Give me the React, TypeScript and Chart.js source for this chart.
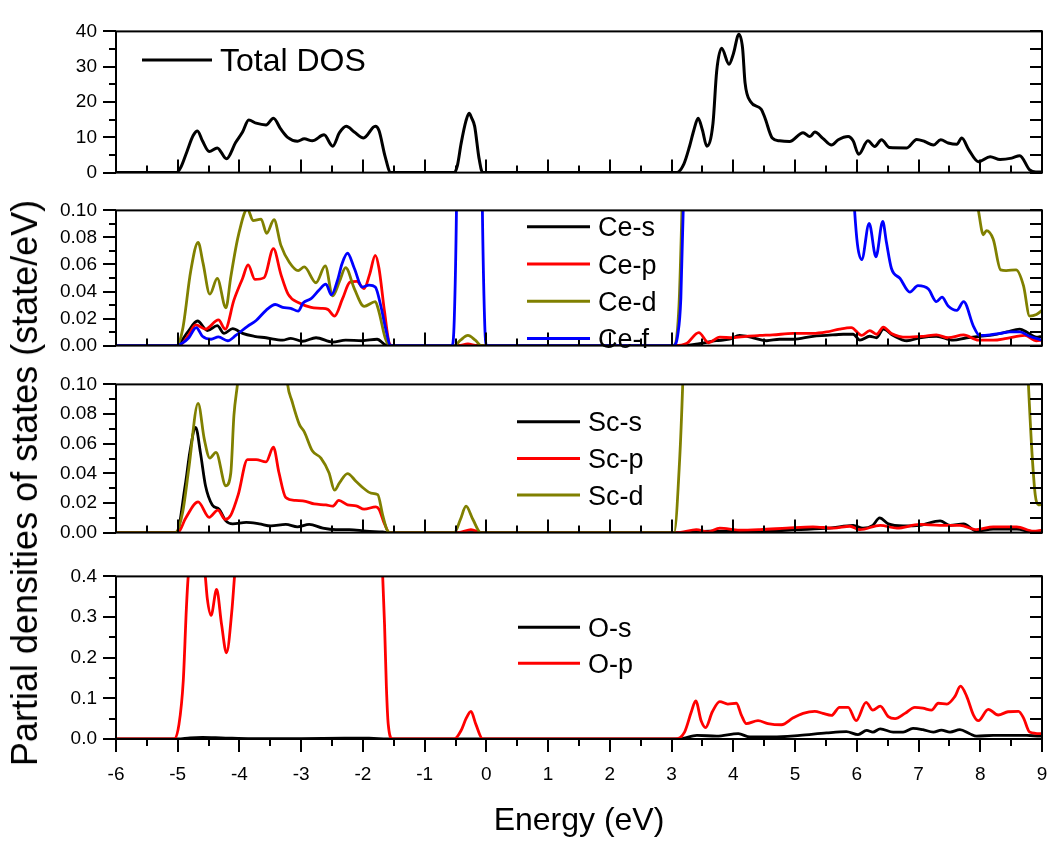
import React, { useEffect, useRef } from 'react';
import { Chart, registerables } from 'chart.js';

Chart.register(...registerables);

// ---------------- data (energies in eV, DOS values) ----------------
const energyTicks = [-6, -5, -4, -3, -2, -1, 0, 1, 2, 3, 4, 5, 6, 7, 8, 9];
const totalTicks = [0, 10, 20, 30, 40];
const pdosTicks = [0, 0.02, 0.04, 0.06, 0.08, 0.1];
const oTicks = [0, 0.1, 0.2, 0.3, 0.4];

const totalLabels = ['Total DOS'];
const ceLabels = ['Ce-s', 'Ce-p', 'Ce-d', 'Ce-f'];
const scLabels = ['Sc-s', 'Sc-p', 'Sc-d'];
const oLabels = ['O-s', 'O-p'];

const totalE = [-6, -5.02, -4.95, -4.85, -4.75, -4.68, -4.6, -4.49, -4.36, -4.21, -4.06, -3.95, -3.85, -3.73, -3.57, -3.45, -3.33, -3.22, -3.06, -2.95, -2.82, -2.63, -2.49, -2.38, -2.27, -2.14, -1.99, -1.8, -1.74, -1.64, -1.55,
  -0.52, -0.47, -0.41, -0.33, -0.28, -0.24, -0.19, -0.12, -0.06,
  3.08, 3.2, 3.29, 3.36, 3.43, 3.5, 3.57, 3.67, 3.73, 3.81, 3.93, 4.0, 4.09, 4.15, 4.19, 4.28, 4.45, 4.51, 4.63, 4.75, 4.91, 5.13, 5.24, 5.32, 5.45, 5.59, 5.7, 5.86, 5.94, 6.03, 6.18, 6.29, 6.4, 6.53, 6.81, 6.97, 7.1, 7.24, 7.36, 7.48, 7.62, 7.7, 7.81, 7.97, 8.16, 8.32, 8.51, 8.64, 8.8, 8.9, 9.0];
const totalDOS = [0, 0, 1.5, 6, 10.5, 11.8, 9, 6, 7, 3.9, 8.6, 11.5, 14.9, 14, 13.5, 15.4, 12.3, 10, 8.9, 9.6, 9, 10.7, 7.5, 11.3, 13.1, 11.5, 9.8, 13.1, 11.9, 4.5, 0,
  0, 2, 8.2, 14.7, 16.8, 15.5, 13.1, 4.1, 0,
  0, 2.5, 7.4, 12, 15.4, 12, 7.5, 13.9, 28.7, 35.2, 30.7, 33.6, 39.2, 35.2, 25.4, 20.1, 18, 15.6, 9.8, 9, 8.8, 11.3, 10.2, 11.5, 9.7, 7.8, 9.3, 10.2, 9, 5.2, 9, 7.4, 9.3, 7.1, 7, 9.4, 8.8, 7.8, 9.3, 8.4, 8, 9.8, 6.6, 3.1, 4.5, 3.7, 4.1, 4.8, 0.8, 0.2, 0.2];

const ceSE = [-6, -5.02, -4.84, -4.68, -4.52, -4.36, -4.25, -4.11, -3.95, -3.76, -3.57, -3.3, -3.17, -2.98, -2.76, -2.49, -2.28, -2.01, -1.77, -1.63, -1.55,
  3.13, 3.45, 3.72, 3.94, 4.1, 4.32, 4.54, 4.75, 4.97, 5.29, 5.51, 5.78, 5.94, 6.05, 6.21, 6.32, 6.43, 6.59, 6.81, 7.02, 7.29, 7.56, 7.78, 7.99, 8.21, 8.43, 8.64, 8.75, 8.91, 9.0];
const ceS = [0, 0, 0.01, 0.0182, 0.0111, 0.0148, 0.009, 0.0126, 0.009, 0.0069, 0.0058, 0.004, 0.0054, 0.0032, 0.0058, 0.0026, 0.004, 0.0036, 0.0047, 0.0004, 0,
  0, 0.0015, 0.0036, 0.0047, 0.0075, 0.0058, 0.0036, 0.0047, 0.0047, 0.0069, 0.0075, 0.0084, 0.0084, 0.004, 0.0069, 0.0058, 0.0122, 0.0075, 0.0036, 0.0058, 0.0069, 0.004, 0.0058, 0.0069, 0.0079, 0.0101, 0.0122, 0.0101, 0.0062, 0.0069];

const cePE = [-6, -4.98, -4.82, -4.71, -4.55, -4.34, -4.23, -4.09, -3.95, -3.86, -3.75, -3.6, -3.45, -3.33, -3.21, -3.03, -2.84, -2.68, -2.57, -2.46, -2.33, -2.21, -2.1, -1.98, -1.89, -1.8, -1.74, -1.65, -1.57, -1.52,
  -0.45, -0.3, -0.15,
  3.05, 3.24, 3.44, 3.6, 3.78, 3.99, 4.21, 4.43, 4.64, 4.97, 5.29, 5.51, 5.72, 5.91, 6.08, 6.21, 6.32, 6.43, 6.56, 6.81, 7.08, 7.29, 7.48, 7.73, 7.97, 8.21, 8.43, 8.72, 8.91, 9.0];
const ceP = [0, 0, 0.008, 0.0154, 0.0122, 0.019, 0.0122, 0.0336, 0.0497, 0.0597, 0.049, 0.0503, 0.0717, 0.0529, 0.0379, 0.0315, 0.0283, 0.0276, 0.0268, 0.0218, 0.0347, 0.0469, 0.0475, 0.0422, 0.0529, 0.0668, 0.0572, 0.025, 0.0015, 0,
  0, 0.0012, 0,
  0, 0.0015, 0.0096, 0.0021, 0.0062, 0.0058, 0.0069, 0.0075, 0.0079, 0.009, 0.009, 0.0101, 0.0122, 0.0133, 0.0075, 0.0111, 0.0084, 0.0137, 0.009, 0.0062, 0.0069, 0.0079, 0.0058, 0.0079, 0.004, 0.004, 0.0054, 0.0075, 0.0036, 0.004];

const ceDE = [-6, -5.02, -4.92, -4.79, -4.67, -4.59, -4.48, -4.36, -4.22, -4.14, -4.02, -3.87, -3.78, -3.65, -3.56, -3.44, -3.33, -3.19, -3.05, -2.95, -2.76, -2.61, -2.49, -2.38, -2.28, -2.14, -1.98, -1.8, -1.74, -1.64, -1.57,
  -0.52, -0.42, -0.3, -0.18, -0.08,
  3.03, 3.12, 3.2, 3.5, 4.0, 5.0, 6.0, 7.0, 7.8, 7.97, 8.05, 8.1, 8.21, 8.33, 8.42, 8.58, 8.7, 8.8, 8.91, 9.0];
const ceD = [0, 0, 0.0122, 0.055, 0.0764, 0.061, 0.038, 0.0497, 0.028, 0.051, 0.081, 0.101, 0.0925, 0.0936, 0.083, 0.0931, 0.0743, 0.0615, 0.0555, 0.0582, 0.0465, 0.0589, 0.0368, 0.0475, 0.0576, 0.0422, 0.029, 0.0325, 0.025, 0.0058, 0,
  0, 0.004, 0.0075, 0.004, 0,
  0, 0.03, 0.15, 0.4, 0.6, 0.5, 0.4, 0.3, 0.15, 0.1, 0.082, 0.085, 0.0786, 0.056, 0.0555, 0.056, 0.0443, 0.0218, 0.023, 0.026];

const ceFE = [-6, -5.02, -4.92, -4.82, -4.7, -4.6, -4.46, -4.34, -4.19, -4.06, -3.87, -3.73, -3.57, -3.42, -3.3, -3.17, -3.05, -2.97, -2.84, -2.71, -2.6, -2.51, -2.41, -2.34, -2.25, -2.14, -2.01, -1.9, -1.8, -1.71, -1.63, -1.55,
  -0.56, -0.52, -0.48, -0.4, -0.28, -0.15, -0.07, -0.03, 0,
  3.03, 3.1, 3.15, 3.2, 3.3, 3.6, 4.0, 4.5, 5.0, 5.5, 5.85, 5.95, 6.01, 6.08, 6.2, 6.31, 6.42, 6.48, 6.56, 6.7, 6.86, 6.99, 7.16, 7.29, 7.38, 7.48, 7.62, 7.73, 7.89, 7.99, 8.16, 8.32, 8.48, 8.64, 8.8, 9.0];
const ceF = [0, 0, 0.002, 0.0058, 0.0133, 0.0069, 0.0047, 0.0064, 0.0036, 0.0075, 0.0143, 0.0186, 0.0261, 0.0304, 0.0283, 0.0276, 0.0255, 0.0315, 0.0347, 0.0411, 0.0454, 0.0375, 0.0486, 0.0604, 0.0683, 0.0572, 0.0433, 0.0448, 0.0433, 0.0293, 0.0122, 0,
  0, 0.02, 0.12, 0.6, 1.2, 0.6, 0.12, 0.02, 0,
  0, 0.008, 0.035, 0.12, 0.4, 1.5, 3.0, 2.5, 1.5, 0.6, 0.2, 0.11, 0.075, 0.0636, 0.0904, 0.0657, 0.0919, 0.0764, 0.0572, 0.0497, 0.0396, 0.0443, 0.0418, 0.0325, 0.0358, 0.0293, 0.0261, 0.0325, 0.0143, 0.0075, 0.0079, 0.009, 0.0101, 0.0101, 0.0069, 0.004];

const scSE = [-6, -5.02, -4.88, -4.8, -4.71, -4.63, -4.55, -4.44, -4.33, -4.22, -4.11, -3.89, -3.68, -3.49, -3.25, -3.06, -2.87, -2.65, -2.44, -2.22, -1.95, -1.68, -1.57,
  3.13, 3.62, 4.05, 4.48, 5.02, 5.56, 5.94, 6.1, 6.26, 6.37, 6.51, 6.75, 7.02, 7.35, 7.51, 7.73, 7.94, 8.21, 8.59, 8.86, 9.0];
const scS = [0, 0, 0.0316, 0.0552, 0.071, 0.0533, 0.0316, 0.0187, 0.0158, 0.0079, 0.0059, 0.0069, 0.0059, 0.0045, 0.0055, 0.0039, 0.0055, 0.003, 0.002, 0.002, 0.001, 0.0004, 0,
  0, 0.001, 0.001, 0.001, 0.002, 0.003, 0.0049, 0.003, 0.0049, 0.0099, 0.0059, 0.0045, 0.0049, 0.0079, 0.0049, 0.0059, 0.001, 0.0024, 0.0024, 0.0004, 0.001];

const scPE = [-6, -5.0, -4.87, -4.67, -4.49, -4.35, -4.23, -4.14, -4.02, -3.87, -3.73, -3.57, -3.45, -3.36, -3.25, -3.09, -2.93, -2.79, -2.6, -2.49, -2.39, -2.25, -2.11, -1.98, -1.79, -1.74, -1.65, -1.57,
  -0.45, -0.25, -0.08,
  3.11, 3.4, 3.59, 3.78, 4.1, 4.43, 4.86, 5.29, 5.62, 5.89, 6.05, 6.38, 6.65, 7.02, 7.35, 7.67, 7.94, 8.21, 8.59, 8.86, 9.0];
const scP = [0, 0, 0.0099, 0.0207, 0.0103, 0.0152, 0.0089, 0.0118, 0.0256, 0.0493, 0.0493, 0.0477, 0.0576, 0.0404, 0.0237, 0.0217, 0.0211, 0.0193, 0.0187, 0.0178, 0.0217, 0.0187, 0.0181, 0.0158, 0.0174, 0.0158, 0.0059, 0,
  0, 0.002, 0,
  0, 0.002, 0.0004, 0.003, 0.0016, 0.002, 0.003, 0.0039, 0.003, 0.0043, 0.002, 0.0049, 0.003, 0.0055, 0.0049, 0.0049, 0.002, 0.0039, 0.0039, 0.001, 0.0016];

const scDE = [-6, -5.04, -4.92, -4.82, -4.67, -4.57, -4.48, -4.38, -4.22, -4.14, -4.09, -4.03, -3.9, -3.6, -3.3, -3.22, -3.15, -3.03, -2.95, -2.82, -2.68, -2.55, -2.46, -2.38, -2.25, -2.11, -1.98, -1.87, -1.76, -1.68, -1.6, -1.55,
  -0.52, -0.42, -0.33, -0.22, -0.09,
  3.04, 3.13, 3.18, 3.25, 4.0, 5.0, 6.0, 7.0, 8.0, 8.6, 8.78, 8.8, 8.83, 8.89, 8.94, 9.0];
const scD = [0, 0, 0.0138, 0.0434, 0.0872, 0.0631, 0.0503, 0.0542, 0.0316, 0.0404, 0.079, 0.101, 0.16, 0.2, 0.14, 0.1, 0.0888, 0.073, 0.068, 0.0552, 0.0503, 0.0404, 0.0286, 0.0335, 0.0398, 0.0345, 0.0296, 0.0266, 0.0256, 0.0118, 0.001, 0,
  0, 0.009, 0.0178, 0.009, 0,
  0, 0.049, 0.1, 0.2, 0.8, 1.0, 1.0, 0.8, 0.6, 0.3, 0.1, 0.083, 0.059, 0.0256, 0.0187, 0.019];

const oSE = [-6, -5.0, -4.8, -4.6, -4.3, -3.8, -3.0, -2.3, -1.9, -1.6,
  3.13, 3.41, 3.73, 4.08, 4.27, 4.64, 5.08, 5.51, 5.83, 6.02, 6.16, 6.26, 6.38, 6.59, 6.75, 6.91, 7.07, 7.24, 7.37, 7.51, 7.67, 7.83, 7.94, 8.21, 8.48, 8.75, 8.97, 9.0];
const oS = [0, 0, 0.003, 0.004, 0.003, 0.001, 0.001, 0.002, 0.002, 0,
  0, 0.009, 0.007, 0.013, 0.005, 0.005, 0.009, 0.015, 0.018, 0.011, 0.021, 0.017, 0.025, 0.017, 0.017, 0.026, 0.023, 0.017, 0.022, 0.017, 0.023, 0.013, 0.007, 0.009, 0.009, 0.009, 0.007, 0.007];

const oPE = [-6, -5.06, -4.98, -4.91, -4.86, -4.83, -4.7, -4.56, -4.52, -4.46, -4.37, -4.29, -4.21, -4.12, -4.08, -3.9, -3.5, -3.0, -2.5, -2.0, -1.75, -1.68, -1.65, -1.62, -1.59, -1.52,
  -0.52, -0.41, -0.33, -0.25, -0.17, -0.06,
  3.06, 3.21, 3.32, 3.39, 3.48, 3.55, 3.66, 3.78, 3.91, 4.05, 4.13, 4.21, 4.4, 4.56, 4.78, 4.97, 5.13, 5.32, 5.45, 5.59, 5.72, 5.86, 5.99, 6.15, 6.26, 6.38, 6.51, 6.62, 6.78, 6.94, 7.07, 7.21, 7.32, 7.46, 7.59, 7.68, 7.78, 7.89, 7.97, 8.13, 8.29, 8.45, 8.62, 8.7, 8.8, 8.97, 9.0];
const oP = [0, 0, 0.036, 0.144, 0.321, 0.4, 0.5, 0.41, 0.344, 0.304, 0.368, 0.282, 0.212, 0.321, 0.4, 0.7, 0.9, 0.8, 0.8, 0.9, 0.6, 0.4, 0.282, 0.128, 0.036, 0,
  0, 0.021, 0.05, 0.068, 0.036, 0,
  0, 0.017, 0.067, 0.094, 0.044, 0.028, 0.067, 0.092, 0.086, 0.088, 0.059, 0.038, 0.045, 0.038, 0.035, 0.052, 0.063, 0.068, 0.063, 0.058, 0.078, 0.078, 0.045, 0.09, 0.071, 0.081, 0.055, 0.05, 0.063, 0.078, 0.076, 0.071, 0.088, 0.086, 0.105, 0.13, 0.105, 0.059, 0.045, 0.073, 0.059, 0.067, 0.068, 0.052, 0.017, 0.013, 0.013];

// ---------------- styling / layout ----------------
const FONT = '"Liberation Sans", Arial, Helvetica, sans-serif';
const BLACK = '#000000';
const RED = '#ff0000';
const OLIVE = '#808000';
const BLUE = '#0000ff';

type Series = { label: string; color: string; e: number[]; v: number[] };
type LegendSpec = { x0: number; x1: number; tx: number; y0: number; gap: number; size: number };
type PanelSpec = {
  key: string;
  top: number;
  height: number;
  padTop: number;
  padBottom: number;
  yTicks: number[];
  decimals: number;
  series: Series[];
  legend: LegendSpec;
  bottomAxis: boolean;
};

const panels: PanelSpec[] = [
  {
    key: 'total', top: 1, height: 202, padTop: 20, padBottom: 20,
    yTicks: totalTicks, decimals: 0, bottomAxis: false,
    series: [{ label: totalLabels[0], color: BLACK, e: totalE, v: totalDOS }],
    legend: { x0: 142, x1: 212, tx: 220, y0: 60, gap: 0, size: 32 },
  },
  {
    key: 'ce', top: 180, height: 196, padTop: 20, padBottom: 20,
    yTicks: pdosTicks, decimals: 2, bottomAxis: false,
    series: [
      { label: ceLabels[0], color: BLACK, e: ceSE, v: ceS },
      { label: ceLabels[1], color: RED, e: cePE, v: ceP },
      { label: ceLabels[2], color: OLIVE, e: ceDE, v: ceD },
      { label: ceLabels[3], color: BLUE, e: ceFE, v: ceF },
    ],
    legend: { x0: 527, x1: 590, tx: 598, y0: 226.7, gap: 37.3, size: 27 },
  },
  {
    key: 'sc', top: 354, height: 209, padTop: 20, padBottom: 20,
    yTicks: pdosTicks, decimals: 2, bottomAxis: false,
    series: [
      { label: scLabels[0], color: BLACK, e: scSE, v: scS },
      { label: scLabels[1], color: RED, e: scPE, v: scP },
      { label: scLabels[2], color: OLIVE, e: scDE, v: scD },
    ],
    legend: { x0: 517, x1: 580, tx: 588, y0: 421.7, gap: 36.7, size: 27 },
  },
  {
    key: 'o', top: 546, height: 300, padTop: 20, padBottom: 0,
    yTicks: oTicks, decimals: 1, bottomAxis: true,
    series: [
      { label: oLabels[0], color: BLACK, e: oSE, v: oS },
      { label: oLabels[1], color: RED, e: oPE, v: oP },
    ],
    legend: { x0: 518, x1: 580, tx: 588, y0: 627.3, gap: 36, size: 27 },
  },
];

function makeDecor(spec: PanelSpec) {
  return {
    id: 'decor_' + spec.key,
    afterDatasetsDraw(chart: any) {
      const { ctx, chartArea } = chart;
      const { left, right, top, bottom } = chartArea;
      const xs = chart.scales.x;
      const ys = chart.scales.y;
      ctx.save();
      ctx.strokeStyle = '#000';
      ctx.lineWidth = 2;
      ctx.lineCap = 'butt';
      // x ticks (major + minor)
      const dir = spec.bottomAxis ? 1 : -1;
      const xLine = (v: number, len: number) => {
        const px = Math.round(xs.getPixelForValue(v));
        ctx.beginPath();
        ctx.moveTo(px, bottom);
        ctx.lineTo(px, bottom + dir * len);
        ctx.stroke();
      };
      energyTicks.forEach((v, i) => {
        xLine(v, 13);
        if (i < energyTicks.length - 1) xLine((v + energyTicks[i + 1]) / 2, 7);
      });
      // y ticks (left outward, right inward)
      const yLine = (v: number, lenL: number, lenR: number) => {
        const py = Math.round(ys.getPixelForValue(v));
        ctx.beginPath();
        ctx.moveTo(left, py);
        ctx.lineTo(left - lenL, py);
        ctx.stroke();
        ctx.beginPath();
        ctx.moveTo(right, py);
        ctx.lineTo(right - lenR, py);
        ctx.stroke();
      };
      const yt = spec.yTicks;
      yt.forEach((v, i) => {
        yLine(v, 13, 12);
        if (i < yt.length - 1) yLine((v + yt[i + 1]) / 2, 7, 12);
      });
      // frame
      ctx.strokeRect(left, top, right - left, bottom - top);
      // legend
      const lg = spec.legend;
      spec.series.forEach((s, i) => {
        const y = lg.y0 + i * lg.gap - spec.top;
        ctx.strokeStyle = s.color;
        ctx.lineWidth = 3;
        ctx.beginPath();
        ctx.moveTo(lg.x0, y);
        ctx.lineTo(lg.x1, y);
        ctx.stroke();
        ctx.fillStyle = '#000';
        ctx.font = `${lg.size}px ${FONT}`;
        ctx.textAlign = 'left';
        ctx.textBaseline = 'alphabetic';
        ctx.fillText(s.label, lg.tx, y + lg.size * 0.358);
      });
      ctx.restore();
    },
  };
}

function buildConfig(spec: PanelSpec): any {
  const n = spec.series.length;
  return {
    type: 'line',
    data: {
      datasets: spec.series.map((s, i) => ({
        label: s.label,
        data: s.e.map((x, k) => ({ x, y: s.v[k] })),
        borderColor: s.color,
        backgroundColor: s.color,
        borderWidth: spec.key === 'total' ? 3 : 2.8,
        pointRadius: 0,
        pointHoverRadius: 0,
        fill: false,
        cubicInterpolationMode: 'monotone',
        order: n - 1 - i,
      })),
    },
    options: {
      animation: false,
      responsive: false,
      events: [],
      layout: { padding: { left: 0, right: 9, top: spec.padTop, bottom: spec.padBottom } },
      plugins: {
        legend: { display: false },
        tooltip: { enabled: false },
        title: { display: false },
      },
      scales: {
        x: {
          type: 'linear',
          min: energyTicks[0],
          max: energyTicks[energyTicks.length - 1],
          display: spec.bottomAxis,
          grid: {
            display: true,
            drawOnChartArea: false,
            drawTicks: true,
            tickLength: 21,
            color: 'rgba(0,0,0,0)',
          },
          border: { display: false },
          afterBuildTicks: (axis: any) => {
            axis.ticks = energyTicks.map((v) => ({ value: v }));
          },
          afterFit: (axis: any) => {
            if (spec.bottomAxis) axis.height = 107;
          },
          ticks: {
            autoSkip: false,
            maxRotation: 0,
            padding: 3,
            color: '#000',
            font: { family: FONT, size: 19 },
            callback: (v: any) => String(v),
          },
          title: {
            display: spec.bottomAxis,
            text: 'Energy (eV)',
            color: '#000',
            font: { family: FONT, size: 32 },
            padding: { top: 0, bottom: 6 },
          },
        },
        y: {
          type: 'linear',
          min: spec.yTicks[0],
          max: spec.yTicks[spec.yTicks.length - 1],
          grid: { display: false, drawTicks: false },
          border: { display: false },
          afterBuildTicks: (axis: any) => {
            axis.ticks = spec.yTicks.map((v) => ({ value: v }));
          },
          afterFit: (axis: any) => {
            axis.width = 116;
          },
          ticks: {
            autoSkip: false,
            padding: 19,
            color: '#000',
            font: { family: FONT, size: 19 },
            callback: (v: any) => Number(v).toFixed(spec.decimals),
          },
        },
      },
    },
    plugins: [makeDecor(spec)],
  };
}

function Panel({ spec }: { spec: PanelSpec }) {
  const ref = useRef<HTMLCanvasElement>(null);
  useEffect(() => {
    if (!ref.current) return;
    const chart = new Chart(ref.current, buildConfig(spec));
    return () => chart.destroy();
  }, [spec]);
  return (
    <canvas
      ref={ref}
      width={1051}
      height={spec.height}
      style={{ position: 'absolute', left: 0, top: spec.top, width: 1051, height: spec.height }}
    />
  );
}

export default function App() {
  return (
    <div style={{ position: 'absolute', left: 0, top: 0, width: 1051, height: 846, background: '#fff', overflow: 'hidden' }}>
      {panels.map((p) => (
        <Panel key={p.key} spec={p} />
      ))}
      <div
        style={{
          position: 'absolute',
          left: 25,
          top: 483,
          transform: 'translate(-50%, -50%) rotate(-90deg)',
          whiteSpace: 'nowrap',
          fontFamily: FONT,
          fontSize: 36,
          color: '#000',
          lineHeight: 1,
        }}
      >
        Partial densities of states (state/eV)
      </div>
    </div>
  );
}
